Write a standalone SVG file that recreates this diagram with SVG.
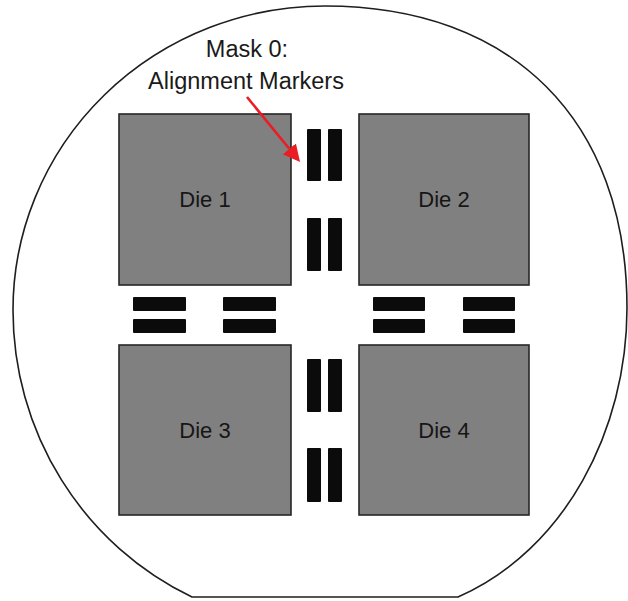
<svg xmlns="http://www.w3.org/2000/svg" width="628" height="601" viewBox="0 0 628 601">
  <style>
    .wafer { fill: #ffffff; stroke: #1e1e1e; stroke-width: 1.6; }
    .die { fill: #808080; stroke: #262626; stroke-width: 1.6; }
    .mark { fill: #0b0b0b; }
    .dietext { font-family: "Liberation Sans", Arial, sans-serif; font-size: 22px; fill: #161616; text-anchor: middle; }
    .label { font-family: "Liberation Sans", Arial, sans-serif; font-size: 23.5px; fill: #1a1a1a; text-anchor: middle; }
    .arrow { stroke: #ea1c24; stroke-width: 2.6; fill: none; }
  </style>
  <defs>
    <marker id="arrowhead" markerUnits="userSpaceOnUse" markerWidth="18" markerHeight="18" refX="0" refY="8.5" orient="auto">
      <path d="M0,0 L17,8.5 L0,17 Z" fill="#ea1c24"/>
    </marker>
  </defs>
  <rect width="628" height="601" fill="#ffffff"/>

  <g id="wafer">
    <path class="wafer" d="M192,597 A312,317 0 0 1 13,310 A312,304 0 0 1 325,6 C512,6 627,120 627,308 C627,430 565,550 458,597 Z"/>
  </g>

  <g id="die1">
    <rect class="die" x="119" y="114" width="172" height="171"/>
    <text class="dietext" x="205" y="207">Die 1</text>
  </g>
  <g id="die2">
    <rect class="die" x="359" y="114" width="170" height="171"/>
    <text class="dietext" x="444" y="207">Die 2</text>
  </g>
  <g id="die3">
    <rect class="die" x="119" y="345" width="172" height="170"/>
    <text class="dietext" x="205" y="438">Die 3</text>
  </g>
  <g id="die4">
    <rect class="die" x="359" y="345" width="170" height="170"/>
    <text class="dietext" x="444" y="438">Die 4</text>
  </g>

  <g id="markers">
    <rect class="mark" x="307" y="129" width="14" height="52" rx="1"/>
    <rect class="mark" x="328" y="129" width="14" height="52" rx="1"/>
    <rect class="mark" x="307" y="218" width="14" height="53" rx="1"/>
    <rect class="mark" x="328" y="218" width="14" height="53" rx="1"/>
    <rect class="mark" x="307" y="359" width="14" height="53" rx="1"/>
    <rect class="mark" x="328" y="359" width="14" height="53" rx="1"/>
    <rect class="mark" x="307" y="448" width="14" height="54" rx="1"/>
    <rect class="mark" x="328" y="448" width="14" height="54" rx="1"/>
    <rect class="mark" x="133" y="297" width="53" height="14" rx="1"/>
    <rect class="mark" x="133" y="319" width="53" height="14" rx="1"/>
    <rect class="mark" x="223" y="297" width="53" height="14" rx="1"/>
    <rect class="mark" x="223" y="319" width="53" height="14" rx="1"/>
    <rect class="mark" x="373" y="297" width="52" height="14" rx="1"/>
    <rect class="mark" x="373" y="319" width="52" height="14" rx="1"/>
    <rect class="mark" x="463" y="297" width="52" height="14" rx="1"/>
    <rect class="mark" x="463" y="319" width="52" height="14" rx="1"/>
  </g>

  <g id="mask-label">
    <text class="label" x="247" y="57">Mask 0:</text>
    <text class="label" x="246" y="89">Alignment Markers</text>
  </g>

  <g id="connectors">
    <line class="arrow" x1="247" y1="97" x2="289.3" y2="148.8" marker-end="url(#arrowhead)"/>
  </g>
</svg>
